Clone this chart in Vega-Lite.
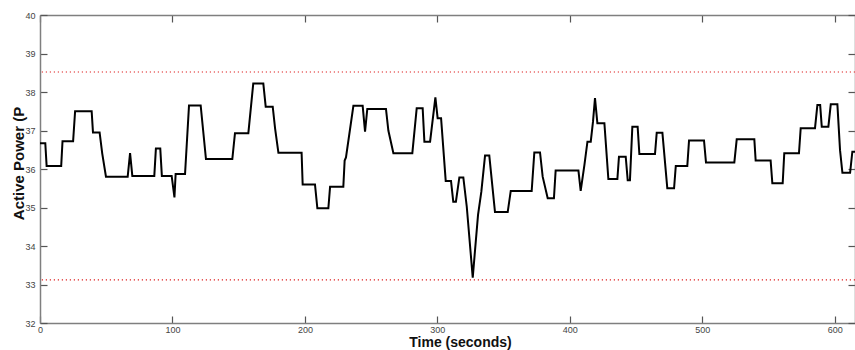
{
  "$schema": "https://vega.github.io/schema/vega-lite/v6.json",
  "width": 815,
  "height": 308,
  "autosize": {"type": "none"},
  "padding": {"left": 40, "top": 15, "right": 0, "bottom": 27},
  "background": "white",
  "config": {
    "view": {"stroke": null},
    "axis": {
      "grid": false,
      "domainColor": "#7f7f7f",
      "domainWidth": 1.5,
      "tickColor": "#555555",
      "tickWidth": 1.2,
      "labelFont": "Liberation Sans",
      "labelFontSize": 9,
      "labelColor": "#444444",
      "titleFont": "Liberation Sans",
      "titleFontSize": 15,
      "titleFontWeight": "bold",
      "titleColor": "#111111",
      "labelFlush": false,
      "labelOverlap": false
    }
  },
  "datasets": {
    "power": [
      {"time": 0, "power": 36.67}, {"time": 4, "power": 36.67}, {"time": 5, "power": 36.08}, {"time": 16, "power": 36.08},
      {"time": 17, "power": 36.72}, {"time": 25, "power": 36.72}, {"time": 26.5, "power": 37.5}, {"time": 39, "power": 37.5},
      {"time": 40, "power": 36.95}, {"time": 45, "power": 36.95}, {"time": 47, "power": 36.4}, {"time": 49.8, "power": 35.8},
      {"time": 66.2, "power": 35.8}, {"time": 68, "power": 36.41}, {"time": 69.7, "power": 35.82}, {"time": 86.3, "power": 35.82},
      {"time": 87.5, "power": 36.53}, {"time": 90.8, "power": 36.53}, {"time": 92, "power": 35.82}, {"time": 99.4, "power": 35.82},
      {"time": 101.5, "power": 35.26}, {"time": 102.4, "power": 35.87}, {"time": 109.5, "power": 35.87}, {"time": 112.5, "power": 37.65},
      {"time": 121.3, "power": 37.65}, {"time": 125.3, "power": 36.26}, {"time": 145.2, "power": 36.26}, {"time": 147.2, "power": 36.93},
      {"time": 157.3, "power": 36.93}, {"time": 161, "power": 38.22}, {"time": 168.6, "power": 38.22}, {"time": 170.4, "power": 37.62},
      {"time": 175.7, "power": 37.62}, {"time": 177.5, "power": 37.05}, {"time": 180, "power": 36.42}, {"time": 197.5, "power": 36.42},
      {"time": 198.3, "power": 35.6}, {"time": 207.6, "power": 35.6}, {"time": 209.4, "power": 34.98}, {"time": 217.7, "power": 34.98},
      {"time": 219, "power": 35.54}, {"time": 229, "power": 35.54}, {"time": 230, "power": 36.22}, {"time": 231, "power": 36.3},
      {"time": 236.6, "power": 37.64}, {"time": 243.6, "power": 37.64}, {"time": 245.4, "power": 36.97}, {"time": 247.1, "power": 37.56},
      {"time": 261.2, "power": 37.56}, {"time": 263, "power": 37.0}, {"time": 266.8, "power": 36.41}, {"time": 281.1, "power": 36.41},
      {"time": 284.4, "power": 37.58}, {"time": 288.9, "power": 37.58}, {"time": 290.2, "power": 36.71}, {"time": 294.5, "power": 36.71},
      {"time": 298.5, "power": 37.86}, {"time": 300.2, "power": 37.32}, {"time": 302.8, "power": 37.32}, {"time": 306.3, "power": 35.69},
      {"time": 310.3, "power": 35.69}, {"time": 312, "power": 35.15}, {"time": 314, "power": 35.15}, {"time": 316.6, "power": 35.78},
      {"time": 319.6, "power": 35.78}, {"time": 322.2, "power": 35.02}, {"time": 326.7, "power": 33.18}, {"time": 330.7, "power": 34.81},
      {"time": 333.2, "power": 35.41}, {"time": 336, "power": 36.35}, {"time": 339.2, "power": 36.35}, {"time": 343.5, "power": 34.88},
      {"time": 353.1, "power": 34.88}, {"time": 355.4, "power": 35.43}, {"time": 371.2, "power": 35.43}, {"time": 373.2, "power": 36.43},
      {"time": 377.5, "power": 36.43}, {"time": 379.5, "power": 35.8}, {"time": 383.3, "power": 35.24}, {"time": 388, "power": 35.24},
      {"time": 389.3, "power": 35.96}, {"time": 406.5, "power": 35.96}, {"time": 408.2, "power": 35.43}, {"time": 411, "power": 36.1},
      {"time": 413.3, "power": 36.71}, {"time": 415.8, "power": 36.71}, {"time": 417.5, "power": 37.23}, {"time": 419, "power": 37.84},
      {"time": 420.8, "power": 37.19}, {"time": 426.1, "power": 37.19}, {"time": 429.1, "power": 35.74}, {"time": 435.9, "power": 35.74},
      {"time": 437.1, "power": 36.32}, {"time": 442.2, "power": 36.32}, {"time": 443.7, "power": 35.71}, {"time": 445.4, "power": 35.71},
      {"time": 447.2, "power": 37.1}, {"time": 451.2, "power": 37.1}, {"time": 452.5, "power": 36.39}, {"time": 464.3, "power": 36.39},
      {"time": 465.6, "power": 36.94}, {"time": 469.9, "power": 36.94}, {"time": 473.6, "power": 35.5}, {"time": 478.7, "power": 35.5},
      {"time": 480, "power": 36.08}, {"time": 488.7, "power": 36.08}, {"time": 490, "power": 36.74}, {"time": 501.3, "power": 36.74},
      {"time": 502.8, "power": 36.17}, {"time": 524.2, "power": 36.17}, {"time": 526, "power": 36.77}, {"time": 539.3, "power": 36.77},
      {"time": 540.3, "power": 36.22}, {"time": 551.6, "power": 36.22}, {"time": 552.9, "power": 35.63}, {"time": 560.7, "power": 35.63},
      {"time": 561.9, "power": 36.41}, {"time": 573, "power": 36.41}, {"time": 574.3, "power": 37.06}, {"time": 585.1, "power": 37.06},
      {"time": 586.9, "power": 37.66}, {"time": 589, "power": 37.66}, {"time": 590.2, "power": 37.1}, {"time": 595.2, "power": 37.1},
      {"time": 597, "power": 37.68}, {"time": 602, "power": 37.68}, {"time": 604, "power": 36.49}, {"time": 605.8, "power": 35.9},
      {"time": 611.6, "power": 35.9}, {"time": 613.3, "power": 36.45}, {"time": 615.3, "power": 36.45}
    ],
    "limits": [{"limit": 38.52}, {"limit": 33.12}]
  },
  "layer": [
    {
      "data": {"name": "power"},
      "mark": {"type": "line", "opacity": 0},
      "encoding": {
        "x": {
          "field": "time", "type": "quantitative",
          "scale": {"domain": [0, 615.3], "nice": false, "zero": false},
          "axis": {"orient": "top", "values": [0, 100, 200, 300, 400, 500, 600], "labels": false, "tickSize": -7, "title": null}
        },
        "y": {
          "field": "power", "type": "quantitative",
          "scale": {"domain": [32, 40], "nice": false, "zero": false},
          "axis": {"orient": "right", "values": [32, 33, 34, 35, 36, 37, 38, 39, 40], "labels": false, "tickSize": -7, "title": null}
        }
      }
    },
    {
      "data": {"name": "limits"},
      "mark": {"type": "rule", "color": "#dd2020", "strokeDash": [1.2, 2.8], "strokeWidth": 1.2},
      "encoding": {
        "y": {"field": "limit", "type": "quantitative", "axis": null}
      }
    },
    {
      "data": {"name": "power"},
      "mark": {"type": "line", "color": "black", "strokeWidth": 2, "strokeJoin": "miter"},
      "encoding": {
        "x": {
          "field": "time", "type": "quantitative",
          "axis": {"orient": "bottom", "values": [0, 100, 200, 300, 400, 500, 600], "tickSize": -7, "labelPadding": 9,
                   "title": "Time (seconds)", "titleX": 420, "titleY": 19, "titleBaseline": "middle", "titleFontSize": 14}
        },
        "y": {
          "field": "power", "type": "quantitative",
          "axis": {"orient": "left", "values": [32, 33, 34, 35, 36, 37, 38, 39, 40], "tickSize": -7, "labelPadding": 12,
                   "title": "Active Power (P", "titleX": -22, "titleY": 148, "titleBaseline": "middle"}
        }
      }
    }
  ],
  "resolve": {"axis": {"x": "independent", "y": "independent"}}
}
